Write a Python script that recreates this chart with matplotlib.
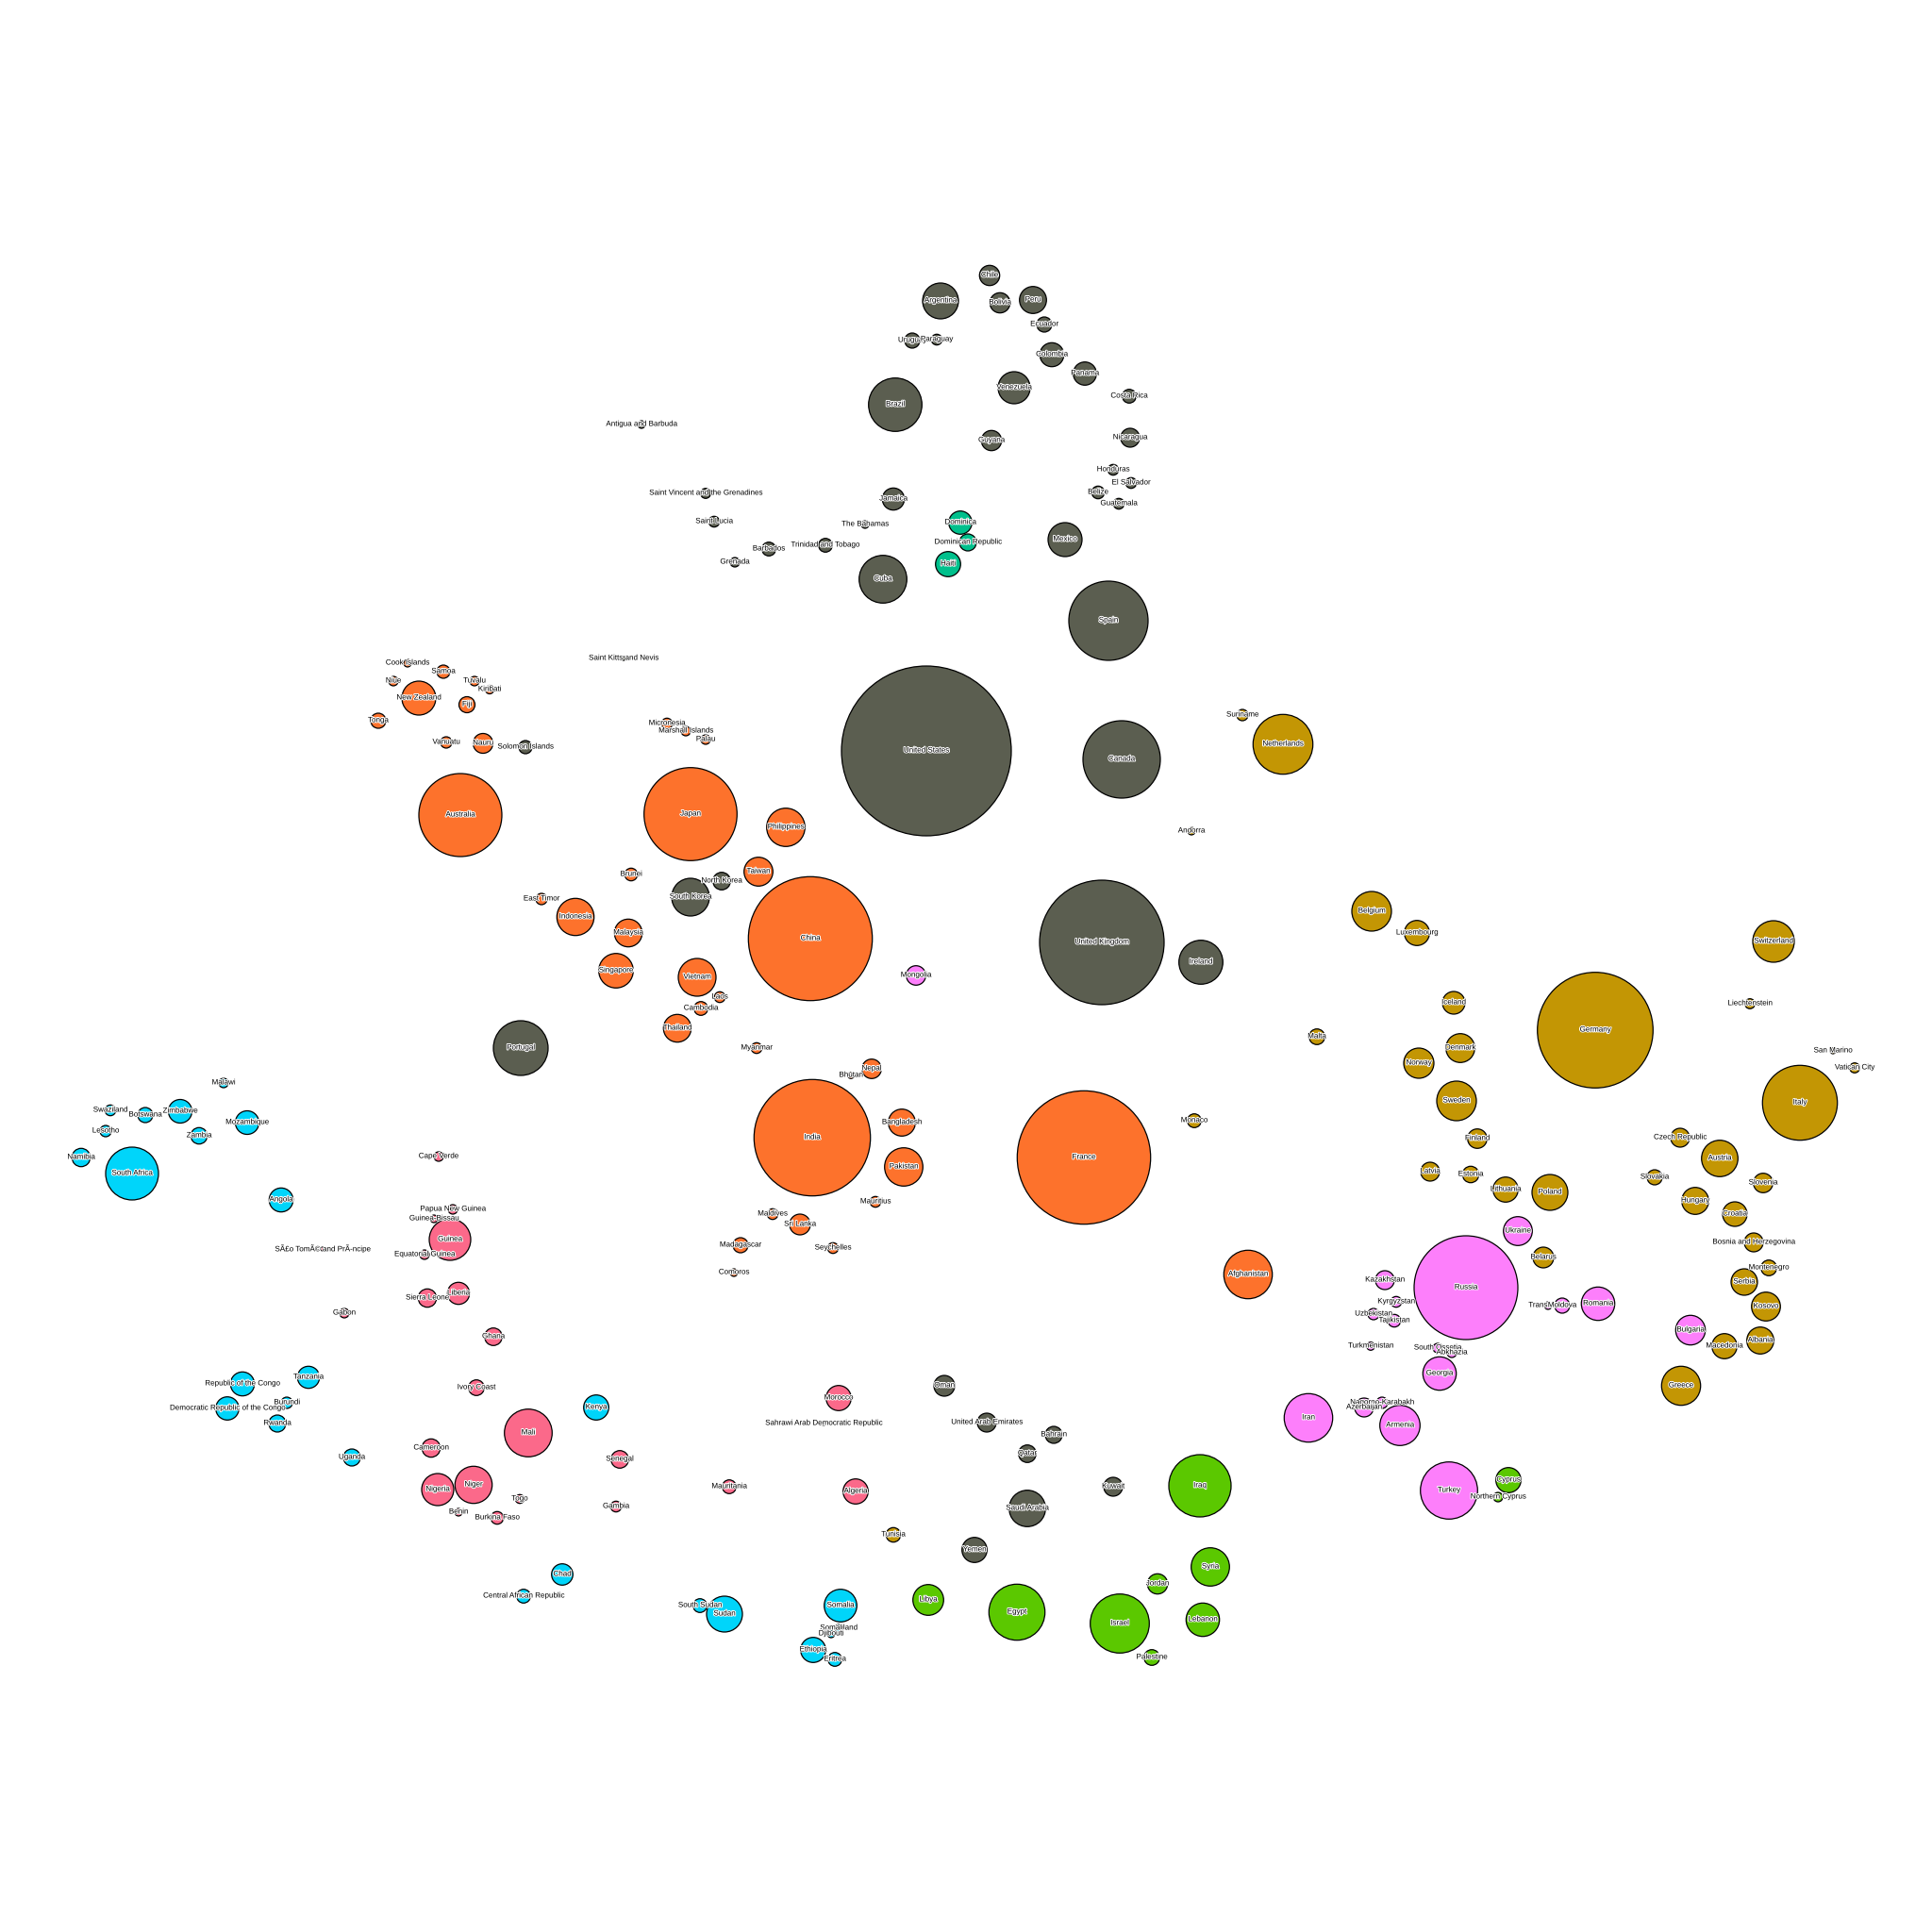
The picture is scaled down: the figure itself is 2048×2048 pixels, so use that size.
import matplotlib.pyplot as plt
from matplotlib.patches import Circle
import matplotlib.patheffects as pe

plt.rcParams['font.family'] = ['Liberation Sans', 'DejaVu Sans']

# node layout: (country, x, y, radius) in layout units (0..2048, y downwards)
americas_anglo = [
    ("Chile", 1049, 292, 10.7), ("Bolivia", 1060, 321, 10.7), ("Peru", 1095, 318, 14.3),
    ("Argentina", 997, 319, 19), ("Ecuador", 1107, 344, 8), ("Uruguay", 967, 361, 8),
    ("Paraguay", 993, 360, 5.7), ("Colombia", 1115, 376, 12.7), ("Panama", 1150, 396, 12.3),
    ("Venezuela", 1075, 411, 17), ("Brazil", 949, 429, 28.3), ("Costa Rica", 1197, 420, 7.3),
    ("Guyana", 1051, 467, 10.7), ("Nicaragua", 1198, 464, 10), ("Honduras", 1180, 498, 5.7),
    ("El Salvador", 1199, 512, 5.7), ("Belize", 1164, 522, 6.7), ("Guatemala", 1186, 534, 5.7),
    ("Mexico", 1129, 572, 18), ("Spain", 1175, 658, 42), ("Antigua and Barbuda", 680, 450, 4),
    ("Saint Vincent and the Grenadines", 748, 523, 5.3), ("Jamaica", 947, 529, 11.7),
    ("Saint Lucia", 757, 553, 5.7), ("The Bahamas", 917, 556, 4), ("Barbados", 815, 582, 7.3),
    ("Trinidad and Tobago", 875, 578, 7.3), ("Grenada", 779, 596, 5), ("Cuba", 936, 614, 25.3),
    ("Saint Kitts and Nevis", 661, 698, 2), ("United States", 982, 796, 90),
    ("Canada", 1189, 805, 41), ("United Kingdom", 1168, 999, 66), ("Ireland", 1273, 1020, 23.3),
    ("Portugal", 552, 1111, 29), ("Solomon Islands", 557, 792, 7), ("North Korea", 765, 934, 9.3),
    ("South Korea", 732, 951, 20), ("Oman", 1001, 1469, 11), ("United Arab Emirates", 1046, 1508, 10),
    ("Bahrain", 1117, 1521, 9), ("Qatar", 1089, 1541, 9.3), ("Kuwait", 1180, 1576, 10),
    ("Saudi Arabia", 1089, 1599, 19.3), ("Yemen", 1033, 1643, 13.3),
]

hispaniola = [
    ("Dominica", 1018, 554, 12.3), ("Dominican Republic", 1026, 575, 9), ("Haiti", 1005, 598, 13.3),
]

asia_pacific = [
    ("Cook Islands", 432, 703, 4), ("Samoa", 470, 712, 7), ("Niue", 417, 722, 5),
    ("Tuvalu", 503, 722, 5), ("Kiribati", 519, 731, 4.5), ("New Zealand", 444, 740, 18),
    ("Fiji", 495, 747, 8.5), ("Tonga", 401, 764, 8), ("Vanuatu", 473, 787, 6),
    ("Nauru", 512, 788, 10.5), ("Australia", 488, 864, 44), ("Micronesia", 707, 767, 5.7),
    ("Marshall Islands", 727, 775, 5), ("Palau", 748, 784, 5), ("Japan", 732, 863, 49.3),
    ("Philippines", 833, 877, 20.3), ("Brunei", 669, 927, 6.7), ("Taiwan", 804, 924, 15.3),
    ("East Timor", 574, 953, 6), ("Indonesia", 610, 972, 19.7), ("China", 859, 995, 65.7),
    ("Malaysia", 666, 989, 14.7), ("Singapore", 653, 1029, 18.3), ("Vietnam", 739, 1036, 20),
    ("Laos", 763, 1057, 5.7), ("Cambodia", 743, 1069, 7.3), ("Thailand", 718, 1090, 14.7),
    ("Myanmar", 802, 1111, 5.7), ("Nepal", 924, 1133, 10.3), ("Bhutan", 902, 1140, 3.3),
    ("India", 861, 1206, 61.7), ("Bangladesh", 956, 1190, 14.3), ("Pakistan", 958, 1237, 20.3),
    ("Mauritius", 928, 1274, 5.7), ("Maldives", 819, 1287, 5.7), ("Sri Lanka", 848, 1298, 11),
    ("Madagascar", 785, 1320, 8), ("Seychelles", 883, 1323, 5.7), ("Comoros", 778, 1349, 4),
    ("France", 1149, 1227, 70.7), ("Afghanistan", 1323, 1351, 25.7),
]

europe = [
    ("Suriname", 1317, 758, 6), ("Netherlands", 1360, 789, 31.7), ("Andorra", 1263, 881, 4),
    ("Belgium", 1454, 966, 21), ("Luxembourg", 1502, 989, 13.3), ("Switzerland", 1880, 998, 22),
    ("Iceland", 1541, 1063, 12), ("Liechtenstein", 1855, 1064, 5.3), ("Germany", 1691, 1092, 61.3),
    ("Malta", 1396, 1099, 8.3), ("Denmark", 1548, 1111, 15.3), ("Norway", 1504, 1127, 16),
    ("San Marino", 1943, 1114, 3), ("Vatican City", 1966, 1132, 5.3), ("Italy", 1908, 1169, 39.7),
    ("Sweden", 1544, 1167, 21), ("Monaco", 1266, 1188, 7.3), ("Finland", 1566, 1207, 10.3),
    ("Czech Republic", 1781, 1206, 10), ("Austria", 1823, 1228, 19.3), ("Latvia", 1516, 1242, 10),
    ("Estonia", 1559, 1245, 8.7), ("Slovakia", 1754, 1248, 8), ("Slovenia", 1869, 1254, 10.3),
    ("Lithuania", 1596, 1261, 13.3), ("Poland", 1643, 1264, 19), ("Hungary", 1797, 1273, 14.3),
    ("Croatia", 1839, 1287, 13), ("Bosnia and Herzegovina", 1859, 1317, 10), ("Belarus", 1636, 1333, 11),
    ("Montenegro", 1875, 1344, 8.3), ("Serbia", 1849, 1359, 14), ("Kosovo", 1872, 1385, 15.3),
    ("Albania", 1866, 1421, 14.3), ("Macedonia", 1828, 1427, 13.3), ("Greece", 1782, 1469, 20.7),
    ("Tunisia", 947, 1627, 7.7),
]

post_soviet = [
    ("Mongolia", 971, 1034, 10.3), ("Ukraine", 1609, 1305, 15.3), ("Russia", 1554, 1365, 55),
    ("Transnistria", 1641, 1384, 4), ("Moldova", 1656, 1384, 8), ("Romania", 1694, 1382, 17.7),
    ("Bulgaria", 1792, 1410, 15.7), ("Kazakhstan", 1468, 1357, 10), ("Kyrgyzstan", 1480, 1380, 5.7),
    ("Uzbekistan", 1456, 1393, 6), ("Tajikistan", 1478, 1400, 6.7), ("Turkmenistan", 1453, 1427, 4.3),
    ("South Ossetia", 1524, 1429, 5), ("Abkhazia", 1539, 1434, 5), ("Georgia", 1526, 1456, 17.7),
    ("Nagorno-Karabakh", 1465, 1487, 6), ("Azerbaijan", 1446, 1492, 10), ("Armenia", 1484, 1511, 21.3),
    ("Iran", 1387, 1503, 25.7), ("Turkey", 1536, 1580, 30.3),
]

levant = [
    ("Iraq", 1272, 1575, 33), ("Syria", 1283, 1661, 20.3), ("Jordan", 1227, 1679, 10.7),
    ("Egypt", 1078, 1709, 29.7), ("Israel", 1187, 1721, 31.3), ("Lebanon", 1275, 1717, 17.7),
    ("Palestine", 1221, 1757, 8.3), ("Libya", 984, 1696, 16.3), ("Cyprus", 1599, 1569, 13.3),
    ("Northern Cyprus", 1588, 1587, 5),
]

east_south_africa = [
    ("Malawi", 237, 1148, 5), ("Swaziland", 117, 1177, 5.7), ("Botswana", 154, 1182, 8),
    ("Zimbabwe", 191, 1178, 12.5), ("Mozambique", 262, 1190, 12.5), ("Lesotho", 112, 1199, 6),
    ("Zambia", 211, 1204, 8.7), ("Namibia", 86, 1227, 9.7), ("South Africa", 140, 1244, 28),
    ("Angola", 298, 1272, 12.7), ("Republic of the Congo", 257, 1467, 12.7), ("Tanzania", 327, 1460, 11.7),
    ("Burundi", 304, 1487, 6), ("Democratic Republic of the Congo", 241, 1493, 12.3),
    ("Rwanda", 294, 1509, 9), ("Uganda", 373, 1545, 9), ("Kenya", 632, 1492, 13.3),
    ("Chad", 596, 1669, 11.3), ("Central African Republic", 555, 1692, 7.3),
    ("South Sudan", 742, 1702, 7.3), ("Sudan", 768, 1711, 19), ("Somalia", 891, 1702, 17.3),
    ("Somaliland", 889, 1726, 4), ("Djibouti", 881, 1732, 4), ("Ethiopia", 862, 1749, 13.3),
    ("Eritrea", 885, 1759, 7.3),
]

west_africa = [
    ("Cape Verde", 465, 1226, 5), ("Papua New Guinea", 480, 1282, 5), ("Guinea-Bissau", 460, 1292, 4),
    ("Guinea", 477, 1314, 22), ("SÃ£o TomÃ© and PrÃ-ncipe", 342, 1324, 2),
    ("Equatorial Guinea", 450, 1330, 5), ("Sierra Leone", 453, 1376, 9.7), ("Liberia", 486, 1371, 11.7),
    ("Gabon", 365, 1392, 5), ("Ghana", 523, 1417, 9.3), ("Ivory Coast", 505, 1471, 8.3),
    ("Cameroon", 457, 1535, 9.7), ("Mali", 560, 1519, 25.3), ("Nigeria", 464, 1579, 17),
    ("Niger", 502, 1574, 19.7), ("Togo", 551, 1589, 4.7), ("Benin", 486, 1603, 4),
    ("Burkina Faso", 527, 1609, 6.7), ("Senegal", 657, 1547, 9.3), ("Gambia", 653, 1597, 5.7),
    ("Mauritania", 773, 1576, 7.3), ("Morocco", 889, 1482, 13.3),
    ("Sahrawi Arab Democratic Republic", 873, 1509, 2), ("Algeria", 907, 1581, 13.3),
]

groups = [
    (americas_anglo, "#5b5e50"),
    (hispaniola, "#00c08c"),
    (asia_pacific, "#fd722c"),
    (europe, "#c39604"),
    (post_soviet, "#fd7ffb"),
    (levant, "#5bc800"),
    (east_south_africa, "#00d5fa"),
    (west_africa, "#fb698a"),
]

fig = plt.figure(figsize=(20.48, 20.48), dpi=100)
ax = fig.add_axes([0, 0, 1, 1])
ax.set_xlim(0, 2048)
ax.set_ylim(2048, 0)
ax.set_aspect("equal")
ax.axis("off")

halo = [pe.withStroke(linewidth=1.4, foreground="white")]

for nodes, color in groups:
    for name, x, y, r in nodes:
        ax.add_patch(Circle((x, y), r, facecolor=color, edgecolor="black", linewidth=0.9, zorder=2))

for nodes, color in groups:
    for name, x, y, r in nodes:
        ax.text(x, y, name, ha="center", va="center", fontsize=5.8, color="black",
                path_effects=halo, zorder=3)

fig.savefig("out.png", dpi=100, facecolor="white")
